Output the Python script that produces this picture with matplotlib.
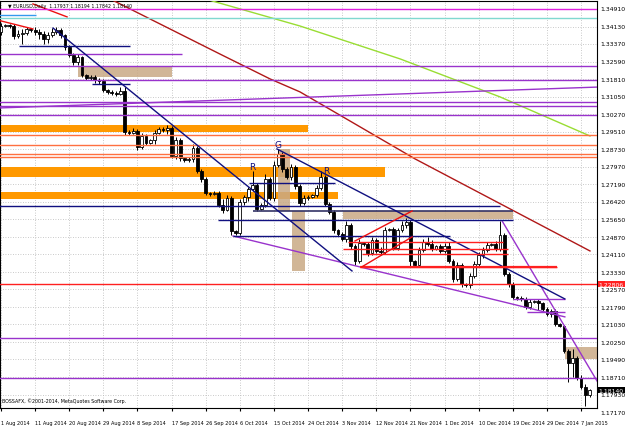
import matplotlib.pyplot as plt
from matplotlib.patches import Rectangle

# EURUSD daily candles, open = previous close
first_open = 1.3390
close = [1.3416, 1.3421, 1.3416, 1.3372, 1.3381, 1.3385, 1.3403, 1.3399, 1.3390, 1.3381,
         1.3359, 1.3377, 1.3390, 1.3399, 1.3377, 1.3324, 1.3289, 1.3258, 1.3280, 1.3201,
         1.3187, 1.3192, 1.3179, 1.3174, 1.3135, 1.3126, 1.3121, 1.3117, 1.3130, 1.2950,
         1.2945, 1.2954, 1.2884, 1.2932, 1.2901, 1.2915, 1.2945, 1.2963, 1.2959, 1.2967,
         1.2844, 1.2915, 1.2835, 1.2827, 1.2831, 1.2879, 1.2778, 1.2743, 1.2681, 1.2677,
         1.2681, 1.2629, 1.2607, 1.2659, 1.2514, 1.2505, 1.2642, 1.2664, 1.2699, 1.2717,
         1.2611, 1.2629, 1.2743, 1.2659, 1.2805, 1.2853, 1.2787, 1.2752, 1.2796, 1.2712,
         1.2637, 1.2659, 1.2664, 1.2673, 1.2703, 1.2752, 1.2633, 1.2598, 1.2519, 1.2501,
         1.2479, 1.2541, 1.2448, 1.2382, 1.2461, 1.2457, 1.2417, 1.2475, 1.2426, 1.2422,
         1.2519, 1.2523, 1.2439, 1.2519, 1.2541, 1.2554, 1.2382, 1.2365, 1.2431, 1.2466,
         1.2457, 1.2435, 1.2448, 1.2426, 1.2448, 1.2382, 1.2303, 1.2365, 1.2281, 1.2277,
         1.2316, 1.2369, 1.2409, 1.2431, 1.2453, 1.2457, 1.2435, 1.2497, 1.2325, 1.2281,
         1.2224, 1.2219, 1.2215, 1.2180, 1.2202, 1.2206, 1.2197, 1.2171, 1.2149, 1.2162,
         1.2105, 1.2096, 1.1986, 1.1933, 1.1955, 1.1867, 1.1828, 1.1794, 1.1814]
high = [1.3429, 1.3425, 1.3425, 1.3425, 1.3399, 1.3403, 1.3412, 1.3407, 1.3412, 1.3403,
        1.3394, 1.3390, 1.3407, 1.3412, 1.3407, 1.3381, 1.3333, 1.3297, 1.3293, 1.3284,
        1.3205, 1.3201, 1.3201, 1.3187, 1.3183, 1.3139, 1.3135, 1.3130, 1.3148, 1.3148,
        1.2959, 1.2967, 1.2963, 1.2945, 1.2941, 1.2919, 1.2959, 1.2972, 1.2972, 1.2981,
        1.2976, 1.2928, 1.2923, 1.2840, 1.2840, 1.2897, 1.2888, 1.2787, 1.2752, 1.2686,
        1.2690, 1.2690, 1.2655, 1.2673, 1.2668, 1.2519, 1.2655, 1.2673, 1.2708, 1.2778,
        1.2726, 1.2637, 1.2765, 1.2752, 1.2822, 1.2875, 1.2862, 1.2796, 1.2809, 1.2805,
        1.2721, 1.2673, 1.2673, 1.2677, 1.2717, 1.2778, 1.2761, 1.2642, 1.2607, 1.2523,
        1.2510, 1.2558, 1.2549, 1.2457, 1.2479, 1.2466, 1.2466, 1.2488, 1.2483, 1.2444,
        1.2532, 1.2527, 1.2532, 1.2527, 1.2558, 1.2571, 1.2563, 1.2387, 1.2444, 1.2479,
        1.2488, 1.2475, 1.2453, 1.2457, 1.2461, 1.2466, 1.2391, 1.2378, 1.2373, 1.2285,
        1.2329, 1.2382, 1.2422, 1.2444, 1.2466, 1.2461, 1.2470, 1.2558, 1.2505, 1.2334,
        1.2290, 1.2228, 1.2228, 1.2224, 1.2215, 1.2211, 1.2215, 1.2202, 1.2180, 1.2171,
        1.2171, 1.2109, 1.2101, 1.1995, 1.1995, 1.1964, 1.1881, 1.1841, 1.1819]
low = [1.3377, 1.3412, 1.3407, 1.3359, 1.3363, 1.3337, 1.3377, 1.3390, 1.3377, 1.3359,
       1.3337, 1.3341, 1.3368, 1.3381, 1.3363, 1.3311, 1.3280, 1.3245, 1.3245, 1.3192,
       1.3179, 1.3179, 1.3165, 1.3161, 1.3126, 1.3117, 1.3113, 1.3108, 1.3113, 1.2937,
       1.2937, 1.2941, 1.2871, 1.2875, 1.2893, 1.2897, 1.2897, 1.2941, 1.2950, 1.2941,
       1.2835, 1.2831, 1.2822, 1.2818, 1.2818, 1.2818, 1.2769, 1.2730, 1.2673, 1.2668,
       1.2673, 1.2620, 1.2593, 1.2602, 1.2497, 1.2497, 1.2497, 1.2629, 1.2646, 1.2690,
       1.2602, 1.2607, 1.2620, 1.2651, 1.2646, 1.2796, 1.2774, 1.2743, 1.2739, 1.2699,
       1.2624, 1.2629, 1.2651, 1.2659, 1.2664, 1.2695, 1.2624, 1.2589, 1.2505, 1.2492,
       1.2470, 1.2466, 1.2435, 1.2365, 1.2373, 1.2448, 1.2404, 1.2409, 1.2417, 1.2409,
       1.2413, 1.2514, 1.2431, 1.2431, 1.2510, 1.2527, 1.2356, 1.2356, 1.2356, 1.2422,
       1.2448, 1.2426, 1.2431, 1.2417, 1.2417, 1.2373, 1.2290, 1.2294, 1.2268, 1.2268,
       1.2264, 1.2307, 1.2356, 1.2395, 1.2422, 1.2448, 1.2426, 1.2426, 1.2316, 1.2268,
       1.2215, 1.2211, 1.2206, 1.2171, 1.2171, 1.2197, 1.2167, 1.2162, 1.2140, 1.2136,
       1.2096, 1.2092, 1.1977, 1.1850, 1.1872, 1.1859, 1.1819, 1.1745, 1.1784]

date_labels = ['1 Aug 2014', '11 Aug 2014', '20 Aug 2014', '29 Aug 2014', '8 Sep 2014',
               '17 Sep 2014', '26 Sep 2014', '6 Oct 2014', '15 Oct 2014', '24 Oct 2014',
               '3 Nov 2014', '12 Nov 2014', '21 Nov 2014', '1 Dec 2014', '10 Dec 2014',
               '19 Dec 2014', '29 Dec 2014', '7 Jan 2015']
price_labels = [1.3491, 1.3413, 1.3337, 1.3259, 1.3181, 1.3105, 1.3027, 1.2951, 1.2873,
                1.2797, 1.2719, 1.2642, 1.2565, 1.2487, 1.2411, 1.2333, 1.2257, 1.2179,
                1.2103, 1.2025, 1.1949, 1.1871, 1.1793, 1.1717]

# moving averages (bar, price)
ma_red_x = [23.2, 25.6, 51.3, 63.1, 70.1, 84.2, 97.1, 106, 138.1]
ma_red_y = [1.3557, 1.3535, 1.3293, 1.3183, 1.3126, 1.2972, 1.2831, 1.2743, 1.2426]
ma_green_x = [46.0, 70.1, 93.6, 117, 138.1]
ma_green_y = [1.3545, 1.3416, 1.3271, 1.3104, 1.2932]

# drawn objects
purple_levels = [1.3240, 1.3179, 1.3082, 1.3064, 1.3025, 1.2043, 1.1867]
purple_short = [(-1, 42.4, 1.3293), (120, 132.2, 1.2215), (123.3, 132.2, 1.2158)]
purple_trends = [(54.4, 1.2492, 132.2, 1.2136), (117.5, 1.2558, 140.5, 1.1830),
                 (-1, 1.3055, 141, 1.3148)]
coral_levels = [1.2937, 1.2893, 1.2853, 1.2840]
orange_bands = [(-1, 72, 1.2950, 1.2981), (-1, 90, 1.2752, 1.2796), (-1, 79, 1.2655, 1.2686)]
tan_boxes = [(18.1, 40.1, 1.3192, 1.3240), (80.2, 120, 1.2567, 1.2602),
             (64.9, 67.8, 1.2602, 1.2875), (68.2, 71.3, 1.2338, 1.2602),
             (132.2, 141, 1.1951, 1.2004)]
navy_short = [(4.2, 30.2, 1.3330), (21.3, 30.2, 1.3161), (58.1, 78.3, 1.2725),
              (-1, 117, 1.2624), (50.9, 120, 1.2563), (54.4, 105.3, 1.2492)]
navy_trends = [(12.2, 1.3407, 82.3, 1.2338), (64.7, 1.2875, 132.2, 1.2215)]
red_short = [(81.4, 117.7, 1.2466), (80.2, 118.9, 1.2435), (84.6, 118.9, 1.2413),
             (84.2, 130.4, 1.2356)]
red_trends = [(83, 1.2470, 96.4, 1.2602), (84.6, 1.2356, 96.4, 1.2488),
              (-1, 1.3443, 7.5, 1.3403), (7.5, 1.3513, 15.5, 1.3456)]
red_level = 1.22806
last_price = 1.18140

fig = plt.figure(figsize=(6.4, 4.27), dpi=100)
ax = fig.add_axes([0, 18 / 427, 597 / 640, 407 / 427])
ax.set_xlim(-0.23, 139.74)
ax.set_ylim(1.1735, 1.3526)

# grid
for k in range(len(date_labels)):
    ax.axvline(8 * k, color='#b8b8b8', lw=0.6, ls=(0, (1, 2)), zorder=0)
for p in price_labels:
    ax.axhline(p, color='#b8b8b8', lw=0.6, ls=(0, (1, 2)), zorder=0)

# background objects
for x0, x1, p0, p1 in orange_bands:
    ax.add_patch(Rectangle((x0, p0), x1 - x0, p1 - p0, color='#ff9900', lw=0, zorder=1))
for x0, x1, p0, p1 in tan_boxes:
    ax.add_patch(Rectangle((x0, p0), x1 - x0, p1 - p0, color='#c9a985', alpha=0.85, lw=0, zorder=1))

# candles
opens = [first_open] + close[:-1]
for i in range(len(close)):
    o, c = opens[i], close[i]
    ax.vlines(i, low[i], high[i], color='black', lw=0.7, zorder=3)
    h = max(abs(c - o), 0.00012)
    face = 'white' if c >= o else 'black'
    ax.add_patch(Rectangle((i - 0.33, min(o, c)), 0.66, h, facecolor=face,
                           edgecolor='black', lw=0.6, zorder=4))

# lines
ax.plot(ma_red_x, ma_red_y, color='#b01818', lw=1.0, zorder=5)
ax.plot(ma_green_x, ma_green_y, color='#99dd33', lw=1.0, zorder=5)
for p in purple_levels:
    ax.axhline(p, color='#9933cc', lw=1.0, zorder=5)
for x0, x1, p in purple_short:
    ax.hlines(p, x0, x1, color='#9933cc', lw=1.0, zorder=5)
for x0, p0, x1, p1 in purple_trends:
    ax.plot([x0, x1], [p0, p1], color='#9933cc', lw=1.0, zorder=5)
for p in coral_levels:
    ax.axhline(p, color='#ff7040', lw=1.0, zorder=5)
for x0, x1, p in navy_short:
    ax.hlines(p, x0, x1, color='#101080', lw=1.0, zorder=5)
ax.hlines(1.2602, 59.1, 120, color='#333366', lw=1.2, zorder=5)
for x0, p0, x1, p1 in navy_trends:
    ax.plot([x0, x1], [p0, p1], color='#101080', lw=1.0, zorder=5)
for x0, x1, p in red_short:
    ax.hlines(p, x0, x1, color='#ff2020', lw=1.0, zorder=5)
ax.hlines(1.2356, 84.2, 130.4, color='#ff2020', lw=1.6, zorder=5)
for x0, p0, x1, p1 in red_trends:
    ax.plot([x0, x1], [p0, p1], color='#ee1010', lw=1.0, zorder=5)
ax.axhline(red_level, color='#ff2020', lw=1.0, zorder=5)
ax.axhline(1.3491, color='#e020e0', lw=1.0, zorder=5)
ax.axhline(1.3451, color='#80d8d0', lw=1.0, zorder=5)
ax.hlines(1.3466, -1, 8.2, color='#3399ee', lw=1.0, zorder=5)

# R / G marks
ax.text(58.9, 1.2796, 'R', color='#101080', fontsize=6.5, ha='center', va='center', zorder=6)
ax.text(64.9, 1.2893, 'G', color='#101080', fontsize=6.5, ha='center', va='center', zorder=6)
ax.text(76.2, 1.2778, 'R', color='#101080', fontsize=6.5, ha='center', va='center', zorder=6)

# axes
for s in ax.spines.values():
    s.set_color('black')
    s.set_linewidth(0.8)
ax.set_yticks([])
tr = ax.get_yaxis_transform()
for p in price_labels:
    ax.text(1.006, p, '%.5f' % p, transform=tr, fontsize=4.4, va='center', ha='left',
            clip_on=False)
ax.text(1.003, red_level, '%.5f' % red_level, transform=tr, fontsize=4.4, va='center',
        ha='left', color='white', clip_on=False,
        bbox=dict(boxstyle='square,pad=0.15', fc='#ff2020', ec='none'))
ax.text(1.003, last_price, '%.5f' % last_price, transform=tr, fontsize=4.4, va='center',
        ha='left', color='white', clip_on=False,
        bbox=dict(boxstyle='square,pad=0.15', fc='black', ec='none'))

ax.set_xticks([8 * k for k in range(len(date_labels))])
ax.set_xticklabels(date_labels, fontsize=3.6, ha='left')
ax.tick_params(axis='x', length=2, pad=7)

ax.text(0.014, 0.994, '\u25bc EURUSD,Daily  1.17937 1.18194 1.17842 1.18140',
        transform=ax.transAxes, fontsize=3.4, va='top', ha='left', zorder=7)
ax.text(0.004, 0.012, 'BOSSAFX, \u00a92001-2014, MetaQuotes Software Corp.',
        transform=ax.transAxes, fontsize=3.4, va='bottom', ha='left', zorder=7)

fig.savefig('out.png', dpi=100)
